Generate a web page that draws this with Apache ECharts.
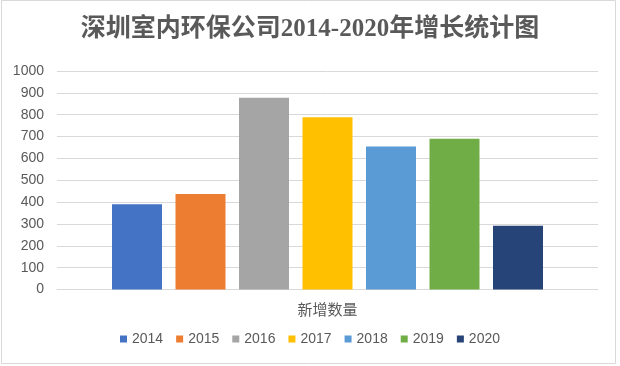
<!DOCTYPE html>
<html><head><meta charset="utf-8">
<script src="https://cdn.jsdelivr.net/npm/echarts@6/dist/echarts.min.js"></script>
<style>html,body{margin:0;padding:0;background:#fff}#c{width:620px;height:366px}</style>
</head><body><div id="c"></div>
<script>
const categories = ['新增数量'];
const seriesNames = ['2014','2015','2016','2017','2018','2019','2020'];
const seriesValues = [390, 437, 878, 788, 655, 690, 292];
const colors = ['#4472C4','#ED7D31','#A5A5A5','#FFC000','#5B9BD5','#70AD47','#264478'];
const titleText = '深圳室内环保公司2014-2020年增长统计图';

const chart = echarts.init(document.getElementById('c'), null, {renderer:'canvas'});
chart.setOption({
  animation:false,
  backgroundColor:'#fff',
  color: colors,
  title:{text:titleText,left:'center',top:17,padding:0,
    textStyle:{fontFamily:'"Liberation Serif","Noto Sans CJK SC",serif',fontWeight:'bold',fontSize:25,color:'#595959'}},
  grid:{left:57,right:22,top:71,bottom:76.5,containLabel:false},
  xAxis:{type:'category',data:categories,
    axisLine:{show:true,lineStyle:{color:'#d9d9d9',width:1}},
    axisTick:{show:false},
    axisLabel:{margin:12,fontSize:15,color:'#595959',fontFamily:'"Noto Sans CJK SC",sans-serif'}},
  yAxis:{type:'value',min:0,max:1000,interval:100,
    axisLine:{show:false},axisTick:{show:false},
    axisLabel:{margin:13,fontSize:14,color:'#595959',fontFamily:'"Liberation Sans",Arial,sans-serif',formatter:v=>String(v)},
    splitLine:{lineStyle:{color:'#d9d9d9',width:1}}},
  legend:{data:seriesNames,bottom:15,left:'center',itemWidth:7,itemHeight:7,itemGap:13,
    icon:'rect',textStyle:{fontSize:14,color:'#595959',fontFamily:'"Liberation Sans",Arial,sans-serif',padding:[0,0,0,0]}},
  graphic:[{type:'rect',shape:{x:1.5,y:0.5,width:614,height:363},style:{fill:null,stroke:'#d9d9d9',lineWidth:1},silent:true}],
  series: seriesNames.map((n,i)=>({name:n,type:'bar',data:[seriesValues[i]],barWidth:50,barGap:'27%',
    itemStyle:{color:colors[i]}}))
});
</script></body></html>
